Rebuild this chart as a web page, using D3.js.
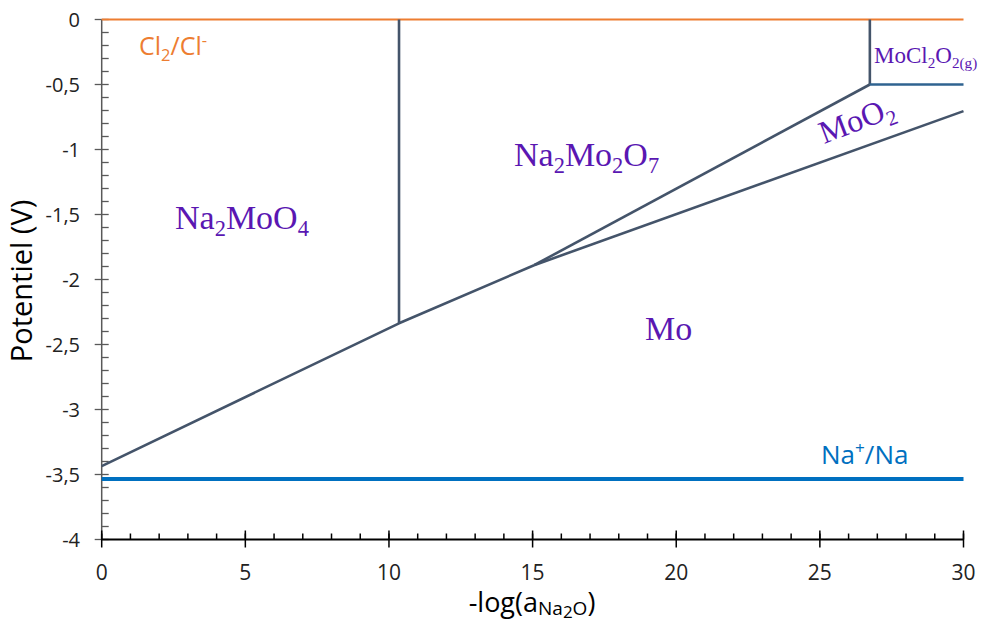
<!DOCTYPE html>
<html><head><meta charset="utf-8">
<script src="https://cdn.jsdelivr.net/npm/d3@7"></script>
<style>body{margin:0;background:#fff}svg{display:block}</style>
</head><body><svg id="c" width="983" height="623"></svg>
<script>
// ---- data ----
const xTicks = [0, 5, 10, 15, 20, 25, 30];
const yTicks = [0, -0.5, -1, -1.5, -2, -2.5, -3, -3.5, -4];
const yTickLabels = ["0", "-0,5", "-1", "-1,5", "-2", "-2,5", "-3", "-3,5", "-4"];
const clLine = [[0, 0], [30, 0]];
const naLine = [[0, -3.535], [30, -3.535]];
const lowerBoundary = [[0, -3.435], [10.35, -2.337], [15.05, -1.89]];
const moo2Upper = [[15.05, -1.89], [26.74, -0.5]];
const moo2Lower = [[15.05, -1.89], [30, -0.705]];
const vertNa2MoO4 = [[10.35, 0], [10.35, -2.337]];
const vertMoCl = [[26.74, 0], [26.74, -0.5]];
const horizMoCl = [[26.74, -0.5], [30, -0.5]];

const svg = d3.select("#c");
const x = d3.scaleLinear().domain([0, 30]).range([101.7, 963.5]);
const y = d3.scaleLinear().domain([-4, 0]).range([539.5, 19.5]);
const line = d3.line().x(d => x(d[0])).y(d => y(d[1]));

// y axis
const yMinor = d3.range(0, 41).map(i => -i / 10);
const ya = svg.append("g");
ya.append("line").attr("x1", x(0)).attr("x2", x(0)).attr("y1", y(0)).attr("y2", y(-4)).attr("stroke", "#595959").attr("stroke-width", 1.5);
ya.selectAll(".mn").data(yMinor).join("line").attr("x1", x(0)).attr("x2", x(0) + 7).attr("y1", d => y(d)).attr("y2", d => y(d)).attr("stroke", "#595959").attr("stroke-width", 1.3);
ya.selectAll(".mj").data(yTicks).join("line").attr("x1", x(0) - 7).attr("x2", x(0)).attr("y1", d => y(d)).attr("y2", d => y(d)).attr("stroke", "#595959").attr("stroke-width", 1.3);
ya.selectAll("text").data(yTicks).join("text").attr("x", 80).attr("y", d => y(d)).attr("dy", "0.35em").attr("text-anchor", "end")
  .attr("font-family", "Open Sans").attr("font-size", 20).attr("fill", "#222").text((d, i) => yTickLabels[i]);

// x axis
const xMinor = d3.range(0, 31);
const xa = svg.append("g");
xa.append("line").attr("x1", x(0)).attr("x2", x(30)).attr("y1", y(-4)).attr("y2", y(-4)).attr("stroke", "#000").attr("stroke-width", 2);
xa.selectAll(".mn").data(xMinor).join("line").attr("x1", d => x(d)).attr("x2", d => x(d)).attr("y1", y(-4) - 6).attr("y2", y(-4)).attr("stroke", "#000").attr("stroke-width", 1.5);
xa.selectAll(".mj").data(xTicks).join("line").attr("x1", d => x(d)).attr("x2", d => x(d)).attr("y1", y(-4) - 9).attr("y2", y(-4) + 8).attr("stroke", "#000").attr("stroke-width", 1.5);
xa.selectAll("text").data(xTicks).join("text").attr("x", d => x(d)).attr("y", 580).attr("text-anchor", "middle")
  .attr("font-family", "Open Sans").attr("font-size", 21).attr("fill", "#222").text(d => d);

// lines
svg.append("path").attr("d", line(clLine)).attr("fill", "none").attr("stroke", "#ED7D31").attr("stroke-width", 2);
svg.append("path").attr("d", line(naLine)).attr("fill", "none").attr("stroke", "#0070C0").attr("stroke-width", 4);
const gray = "#44546A";
[lowerBoundary, moo2Upper, moo2Lower, vertNa2MoO4, vertMoCl].forEach(p =>
  svg.append("path").attr("d", line(p)).attr("fill", "none").attr("stroke", gray).attr("stroke-width", 2.6).attr("stroke-linejoin", "round"));
svg.append("path").attr("d", line(horizMoCl)).attr("fill", "none").attr("stroke", "#2F6390").attr("stroke-width", 2.6);

// labels
const purple = "#5A17B2";
function chem(parts, px, py, size, opts = {}) {
  const t = svg.append("text").attr("x", px).attr("y", py).attr("font-family", opts.family || "Liberation Serif")
    .attr("font-size", size).attr("fill", opts.fill || purple);
  if (opts.rotate) t.attr("transform", `rotate(${opts.rotate},${px},${py})`);
  let cur = 0;
  parts.forEach(([s, kind]) => {
    let shift = kind === "sub" ? size * 0.22 : kind === "sup" ? -size * 0.38 : 0;
    t.append("tspan").attr("dy", shift - cur).attr("font-size", kind ? size * 0.66 : size).text(s);
    cur = shift;
  });
  return t;
}
chem([["Na"], ["2", "sub"], ["MoO"], ["4", "sub"]], 175, 229, 34);
chem([["Na"], ["2", "sub"], ["Mo"], ["2", "sub"], ["O"], ["7", "sub"]], 514, 166, 34);
chem([["Mo"]], 645, 340, 34);
chem([["MoO"], ["2", "sub"]], 824, 144, 32, { rotate: -21 });
chem([["MoCl"], ["2", "sub"], ["O"], ["2(g)", "sub"]], 874, 63, 23);
chem([["Cl"], ["2", "sub"], ["/Cl"], ["-", "sup"]], 139, 55, 25, { family: "Open Sans", fill: "#ED7D31" });
chem([["Na"], ["+", "sup"], ["/Na"]], 821, 464, 26, { family: "Open Sans", fill: "#0070C0" });

// axis titles
svg.append("text").attr("transform", "translate(32,281) rotate(-90)").attr("text-anchor", "middle")
  .attr("font-family", "Open Sans").attr("font-size", 29).attr("fill", "#000").text("Potentiel (V)");
const xt = svg.append("text").attr("x", 532).attr("y", 612).attr("text-anchor", "middle").attr("font-family", "Open Sans").attr("font-size", 27).attr("fill", "#000");
xt.append("tspan").text("-log(a");
xt.append("tspan").attr("font-size", 19).attr("dy", 3).text("Na");
xt.append("tspan").attr("font-size", 17).attr("dy", 3).text("2");
xt.append("tspan").attr("font-size", 19).attr("dy", -3).text("O");
xt.append("tspan").attr("dy", -3).text(")");
</script></body></html>
